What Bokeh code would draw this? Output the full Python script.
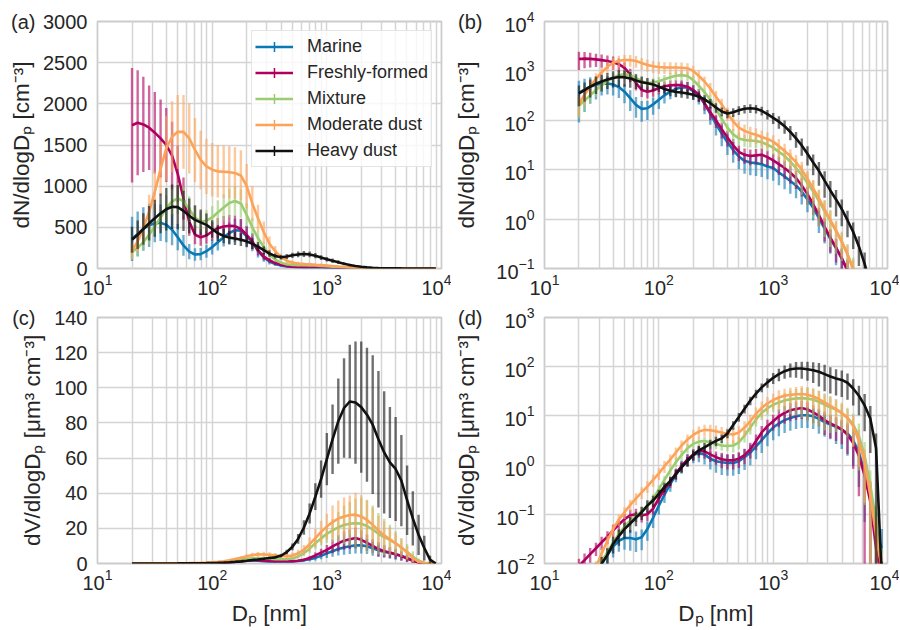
from bokeh.plotting import figure
from bokeh.models import (ColumnDataSource, FixedTicker, Range1d, Legend, LegendItem,
                          LogTickFormatter, LinearAxis, LogAxis)
from bokeh.layouts import column, row
from bokeh.embed import file_html
from bokeh.resources import INLINE

# ---------------- data ----------------
dp_nm = [20, 22.4, 25.1, 28.2, 31.6, 35.5, 39.8, 44.7, 50.1, 56.2, 63.1, 70.8, 79.4, 89.1, 100,
         112, 126, 141, 158, 178, 200, 224, 251, 282, 316,
         355, 398, 447, 501, 562, 631, 708, 794, 891, 1000,
         1122, 1259, 1413, 1585, 1778, 1995, 2239, 2512, 2818, 3162,
         3548, 3981, 4467, 5012, 5623, 6310, 7079, 7943, 8913]

names = ["Marine", "Freshly-formed", "Mixture", "Moderate dust", "Heavy dust"]
colors = ["#0a78b4", "#b0005e", "#9ccc72", "#fca35a", "#111111"]

# dN/dlogDp [cm^-3]
n_marine = [360, 420, 480, 525, 550, 555, 530, 470, 380, 280, 205, 170, 175, 210, 260,
            320, 380, 430, 465, 460, 390, 320, 215, 135, 85,
            54, 36, 25, 18.5, 15.1, 14, 13.6, 12.9, 11.6, 10.8,
            8.8, 7.3, 5.9, 4.8, 3.6, 2.5, 1.7, 1.05, 0.64, 0.40,
            0.26, 0.16, 0.094, 0.049, 0.019, 0.0053, 0.0012, 0.0002, 0.00005]
n_fresh = [1740, 1770, 1750, 1710, 1650, 1580, 1500, 1370, 1150, 850, 570, 410, 380, 400, 450,
           490, 510, 520, 515, 480, 410, 328, 222, 145, 100,
           66, 45, 31, 23, 20, 19, 19.5, 20, 18, 15.5,
           13, 10.8, 8.7, 6.8, 4.8, 3.2, 2.0, 1.2, 0.70, 0.42,
           0.265, 0.16, 0.09, 0.042, 0.0166, 0.0046, 0.001, 0.00008, 0.00001]
n_mix = [200, 250, 320, 410, 510, 620, 730, 815, 850, 820, 720, 620, 570, 580, 620,
         680, 740, 795, 820, 790, 650, 500, 370, 260, 171,
         107, 71, 52, 43, 40, 39, 38, 36, 32, 28,
         23, 19, 14.5, 10.8, 7.8, 5.4, 3.6, 2.34, 1.44, 0.91,
         0.57, 0.35, 0.195, 0.10, 0.042, 0.0118, 0.0021, 0.00027, 0.00003]
n_mod = [215, 330, 490, 690, 930, 1210, 1460, 1600, 1660, 1660, 1580, 1440, 1320, 1240, 1200,
         1180, 1175, 1170, 1160, 1130, 1000, 790, 610, 440, 300,
         210, 139, 95, 71, 61, 55, 51, 46, 42, 37,
         30, 24, 18.6, 14.2, 10, 6.6, 4.2, 2.65, 1.6, 0.97,
         0.59, 0.35, 0.195, 0.094, 0.033, 0.0086, 0.0013, 0.00014, 0.00002]
n_heavy = [350, 410, 480, 550, 610, 670, 720, 750, 745, 700, 640, 590, 560, 530, 480,
           430, 395, 375, 365, 350, 330, 300, 265, 222, 182,
           151, 137, 146, 160, 171, 176, 171, 156, 133, 112,
           94, 76, 58, 43, 31, 21, 14, 9.5, 6, 3.8,
           2.5, 1.6, 0.95, 0.55, 0.28, 0.124, 0.047, 0.008, 0.00001]

# dV/dlogDp [um^3 cm^-3]
v_marine = [0.002, 0.003, 0.0045, 0.0068, 0.0098, 0.015, 0.022, 0.029, 0.033, 0.033, 0.031, 0.034, 0.05, 0.085, 0.15,
            0.25, 0.41, 0.64, 0.95, 1.3, 1.6, 1.75, 1.65, 1.35, 1.2,
            1.14, 1.1, 1.1, 1.2, 1.45, 1.8, 2.4, 3.2, 4.4, 5.8,
            7.0, 8.2, 9.1, 9.8, 10.3, 10.3, 9.8, 8.7, 7.5, 6.7,
            6.0, 5.3, 4.4, 3.2, 1.8, 0.7, 0.23, 0.05, 0.02]
v_fresh = [0.0089, 0.0117, 0.0155, 0.0204, 0.027, 0.035, 0.047, 0.062, 0.08, 0.095, 0.1, 0.095, 0.1, 0.13, 0.21,
           0.32, 0.46, 0.68, 0.95, 1.3, 1.65, 1.95, 1.9, 1.65, 1.45,
           1.32, 1.25, 1.25, 1.35, 1.6, 2.1, 3.1, 4.6, 6.2, 7.8,
           9.8, 11.5, 13, 13.8, 14.5, 13.5, 11.8, 10, 8.2, 7.0,
           6.2, 5.3, 4.2, 2.8, 1.55, 0.61, 0.18, 0.02, 0.005]
v_mix = [0.0015, 0.0025, 0.0042, 0.0072, 0.011, 0.017, 0.027, 0.04, 0.056, 0.074, 0.09, 0.115, 0.15, 0.21, 0.32,
         0.5, 0.78, 1.15, 1.6, 2.2, 2.7, 3.0, 3.1, 2.9, 2.7,
         2.5, 2.45, 2.5, 2.9, 4.0, 5.8, 8.5, 11.5, 14.3, 16.9,
         18.8, 20.6, 21.9, 22.6, 23, 22.6, 21.3, 19.4, 16.9, 15,
         13.4, 11.5, 9.1, 6.7, 3.9, 1.55, 0.39, 0.07, 0.01]
v_mod = [0.001, 0.002, 0.0042, 0.0085, 0.016, 0.029, 0.05, 0.078, 0.11, 0.155, 0.21, 0.28, 0.37, 0.5, 0.68,
         0.95, 1.3, 1.8, 2.5, 3.3, 4.1, 4.8, 5.2, 5.1, 4.9,
         4.6, 4.3, 4.2, 4.6, 5.8, 7.8, 11, 14.5, 18, 21,
         23.6, 25.6, 26.8, 27.6, 27.8, 26.8, 24.8, 22, 18.8, 16,
         13.8, 11.5, 9.1, 6.2, 3.1, 1.13, 0.24, 0.038, 0.008]
v_heavy = [0.0016, 0.0026, 0.0043, 0.0068, 0.0099, 0.015, 0.025, 0.036, 0.05, 0.065, 0.085, 0.11, 0.15, 0.19, 0.26,
           0.36, 0.48, 0.65, 0.9, 1.2, 1.6, 2.0, 2.3, 2.7, 3.1,
           3.5, 4.4, 6.5, 9.5, 14, 20.5, 28.5, 38, 48, 59.4,
           70.7, 81, 88.5, 92.2, 91.6, 89, 84.7, 79, 70.7, 63.2,
           57.5, 53.8, 47.2, 36, 25.7, 16.3, 8.8, 2.2, 0.005]

# relative standard deviation (error bar half length / value)
r_marine = [0.75, 0.65, 0.55, 0.5, 0.42, 0.4, 0.4, 0.4, 0.42, 0.45, 0.45, 0.45, 0.42, 0.38, 0.35,
            0.32, 0.3, 0.3, 0.3, 0.3, 0.32, 0.35, 0.38, 0.4, 0.42,
            0.45, 0.45, 0.45, 0.45, 0.45, 0.45, 0.45, 0.45, 0.45, 0.45,
            0.45, 0.45, 0.45, 0.45, 0.45, 0.45, 0.45, 0.5, 0.5, 0.5,
            0.55, 0.6, 0.65, 0.7, 0.8, 0.9, 1.0, 1.2, 1.5]
r_fresh = [0.4, 0.36, 0.33, 0.3, 0.3, 0.3, 0.3, 0.3, 0.3, 0.3, 0.3, 0.28, 0.27, 0.25, 0.25,
           0.25, 0.25, 0.25, 0.25, 0.26, 0.27, 0.28, 0.29, 0.3, 0.3,
           0.35, 0.35, 0.35, 0.35, 0.35, 0.35, 0.35, 0.35, 0.35, 0.35,
           0.4, 0.4, 0.4, 0.4, 0.4, 0.4, 0.4, 0.4, 0.5, 0.5,
           0.5, 0.5, 0.6, 0.7, 0.85, 1.0, 1.2, 1.2, 1.2]
r_mix = [0.45, 0.38, 0.32, 0.28, 0.22, 0.22, 0.22, 0.22, 0.22, 0.22, 0.22, 0.22, 0.22, 0.22, 0.22,
         0.22, 0.22, 0.22, 0.22, 0.22, 0.22, 0.22, 0.22, 0.22, 0.22,
         0.22, 0.22, 0.28, 0.28, 0.28, 0.28, 0.28, 0.28, 0.28, 0.3,
         0.35, 0.42, 0.5, 0.55, 0.6, 0.65, 0.7, 0.7, 0.7, 0.7,
         0.65, 0.6, 0.6, 0.65, 0.8, 0.9, 1.0, 1.1, 1.1]
r_mod = [0.45, 0.4, 0.35, 0.3, 0.27, 0.27, 0.27, 0.27, 0.27, 0.27, 0.27, 0.27, 0.27, 0.27, 0.27,
         0.27, 0.27, 0.27, 0.27, 0.27, 0.27, 0.27, 0.27, 0.3, 0.3,
         0.3, 0.3, 0.35, 0.35, 0.35, 0.35, 0.35, 0.35, 0.35, 0.35,
         0.4, 0.4, 0.4, 0.4, 0.45, 0.45, 0.45, 0.45, 0.45, 0.5,
         0.5, 0.5, 0.5, 0.6, 0.7, 0.85, 1.0, 1.0, 1.0]
r_heavy = [0.45, 0.42, 0.4, 0.38, 0.37, 0.36, 0.36, 0.36, 0.36, 0.35, 0.33, 0.3, 0.28, 0.26, 0.22,
           0.22, 0.22, 0.22, 0.22, 0.22, 0.22, 0.22, 0.22, 0.22, 0.22,
           0.2, 0.2, 0.2, 0.2, 0.2, 0.2, 0.2, 0.2, 0.22, 0.25,
           0.28, 0.3, 0.32, 0.35, 0.38, 0.42, 0.45, 0.5, 0.55, 0.55,
           0.55, 0.55, 0.55, 0.55, 0.6, 0.7, 0.8, 1.0, 1.2]

number_series = [n_marine, n_fresh, n_mix, n_mod, n_heavy]
volume_series = [v_marine, v_fresh, v_mix, v_mod, v_heavy]
rel_series = [r_marine, r_fresh, r_mix, r_mod, r_heavy]

x_major = [10, 100, 1000, 10000]
x_minor = [20, 30, 40, 50, 60, 70, 80, 90, 200, 300, 400, 500, 600, 700, 800, 900,
           2000, 3000, 4000, 5000, 6000, 7000, 8000, 9000]
ticks_a = [0, 500, 1000, 1500, 2000, 2500, 3000]
ticks_b = [0.1, 1, 10, 100, 1000, 10000]
ticks_c = [0, 20, 40, 60, 80, 100, 120, 140]
ticks_d = [0.01, 0.1, 1, 10, 100, 1000]

# ---------------- styling ----------------
FONT = "Liberation Sans"
GRID = "#d4d4d4"
TXT = "#262626"


def quiet_axis(ax):
    ax.axis_line_color = None
    ax.major_tick_line_color = None
    ax.minor_tick_line_color = None
    ax.major_tick_out = 0
    ax.major_tick_in = 0
    ax.minor_tick_out = 0
    ax.minor_tick_in = 0
    ax.major_label_text_font = FONT
    ax.major_label_text_font_size = "20px"
    ax.major_label_text_color = TXT


def base_fig(width, height, bl, br, bt, bb, ylog, yr, yticks, ylabel, ylab_standoff,
             tag, tag_standoff, xlabel=None):
    p = figure(width=width, height=height, x_axis_type="log",
               y_axis_type=("log" if ylog else "linear"),
               x_range=Range1d(10, 10000), y_range=Range1d(*yr),
               output_backend="svg", toolbar_location=None,
               min_border_left=bl, min_border_right=br,
               min_border_top=bt, min_border_bottom=bb)
    xt = FixedTicker(ticks=x_major, minor_ticks=x_minor)
    yt = FixedTicker(ticks=yticks)
    p.xaxis.ticker = xt
    p.xgrid.ticker = xt
    p.yaxis.ticker = yt
    p.ygrid.ticker = yt
    p.xaxis.formatter = LogTickFormatter()
    if ylog:
        p.yaxis.formatter = LogTickFormatter()
    for ax in p.axis:
        quiet_axis(ax)
        ax.axis_label_text_font = FONT
        ax.axis_label_text_font_size = "22.5px"
        ax.axis_label_text_font_style = "normal"
        ax.axis_label_text_color = TXT
    p.xaxis.major_label_standoff = 5
    p.yaxis.major_label_standoff = 10
    p.yaxis.axis_label = ylabel
    p.yaxis.axis_label_standoff = ylab_standoff
    if xlabel:
        p.xaxis.axis_label = xlabel
        p.xaxis.axis_label_standoff = 8
    p.xgrid.grid_line_color = GRID
    p.xgrid.grid_line_width = 1.5
    p.xgrid.minor_grid_line_color = GRID
    p.xgrid.minor_grid_line_width = 1.5
    p.ygrid.grid_line_color = GRID
    p.ygrid.grid_line_width = 1.5
    p.outline_line_color = "#cccccc"
    p.outline_line_width = 1.8
    p.background_fill_color = "white"
    p.border_fill_color = "white"
    # panel tag "(a)".. drawn as the single label of an outer, tick-less axis
    top = yticks[-1]
    tag_axis = (LogAxis if ylog else LinearAxis)(ticker=FixedTicker(ticks=[top]),
                                                  major_label_overrides={top: tag})
    quiet_axis(tag_axis)
    tag_axis.major_label_standoff = tag_standoff
    p.add_layout(tag_axis, "left")
    return p


def draw_series(p, series, ylog, with_legend=False):
    items = []
    for name, vals, rel, col in zip(names, series, rel_series, colors):
        lo, hi = [], []
        for v, r in zip(vals, rel):
            l = v * (1 - r)
            if ylog and l <= 0:
                l = 1e-9
            lo.append(l)
            hi.append(v * (1 + r))
        src = ColumnDataSource(dict(x=dp_nm, y=vals, lo=lo, hi=hi))
        p.segment(x0="x", y0="lo", x1="x", y1="hi", source=src,
                  line_color=col, line_alpha=0.6, line_width=2.4)
        ln = p.line("x", "y", source=src, line_color=col, line_width=2.6)
        if with_legend:
            mk = p.scatter("x", "y", source=src, marker="cross", size=0,
                           line_color=col, line_width=1.5)
            items.append(LegendItem(label=name, renderers=[ln, mk]))
    return items


ylab_n = "dN/dlogDₚ [cm⁻³]"
ylab_v = "dV/dlogDₚ [μm³ cm⁻³]"
xlab = "Dₚ [nm]"

pa = base_fig(451, 300, 97, 10, 21, 32, False, (0, 3000), ticks_a, ylab_n, 6, "(a)", -29)
pb = base_fig(448, 300, 93, 12, 21, 32, True, (0.1, 10000), ticks_b, ylab_n, 14, "(b)", -31)
pc = base_fig(451, 328, 97, 10, 17, 62, False, (0, 140), ticks_c, ylab_v, 6, "(c)", -18, xlab)
pd = base_fig(448, 328, 93, 12, 17, 62, True, (0.01, 1000), ticks_d, ylab_v, 14, "(d)", -31, xlab)

items = draw_series(pa, number_series, False, with_legend=True)
draw_series(pb, number_series, True)
draw_series(pc, volume_series, False)
draw_series(pd, volume_series, True)

legend = Legend(items=items, location="top_right")
legend.label_text_font = FONT
legend.label_text_font_size = "18px"
legend.label_text_color = TXT
legend.glyph_width = 38
legend.glyph_height = 25
legend.spacing = 1
legend.padding = 3
legend.margin = 9
legend.label_standoff = 14
legend.border_line_color = "#cccccc"
legend.border_line_width = 1
legend.background_fill_alpha = 0.8
pa.add_layout(legend)

layout = column(row(pa, pb), row(pc, pd))
open("out.html", "w").write(file_html(layout, INLINE))
